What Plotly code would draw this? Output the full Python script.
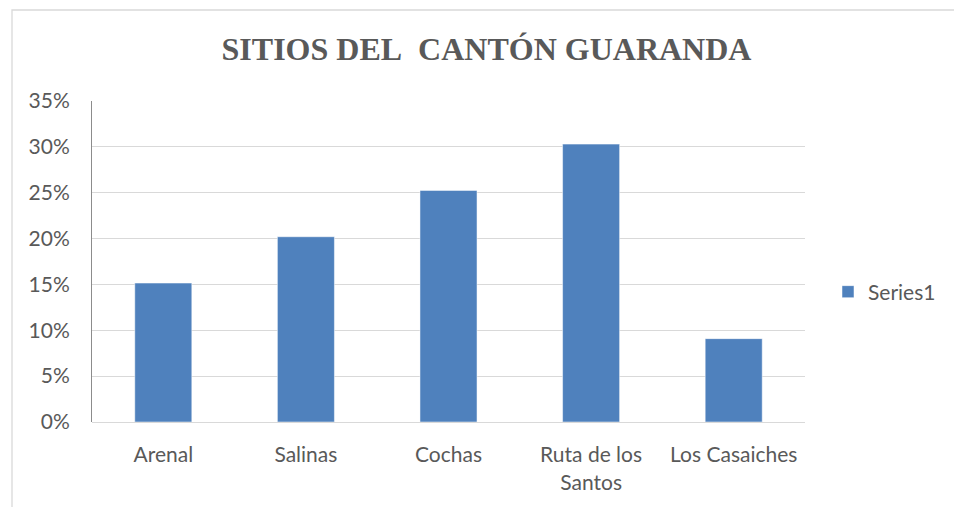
import plotly.graph_objects as go

categories = ["Arenal", "Salinas", "Cochas", "Ruta de los<br>Santos", "Los Casaiches"]
values = [0.1515, 0.2020, 0.2525, 0.3030, 0.0909]
series_name = "Series1"
title_text = "SITIOS DEL&nbsp; CANTÓN GUARANDA"
y_ticks = [0, 0.05, 0.10, 0.15, 0.20, 0.25, 0.30, 0.35]
y_tick_labels = ["0%", "5%", "10%", "15%", "20%", "25%", "30%", "35%"]

W, H = 954, 507
L, R, T, B = 92, 805, 101, 422

fig = go.Figure()
fig.add_trace(go.Bar(
    x=categories, y=values, name=series_name,
    marker=dict(color="#4f81bd", line=dict(color="#ffffff", width=0.5)),
    showlegend=True,
))

pw = R - L
ph = B - T

def px_x(p):
    return (p - L) / pw

def px_y(p):
    return (B - p) / ph

fig.update_layout(
    width=W, height=H,
    margin=dict(l=L, r=W - R, t=T, b=H - B, pad=0, autoexpand=False),
    paper_bgcolor="white", plot_bgcolor="white",
    bargap=0.6,
    font=dict(family="Lato, 'Open Sans', sans-serif", size=21, color="#595959"),
    title=dict(
        text="<b>" + title_text + "</b>",
        font=dict(family="'Liberation Serif', 'Times New Roman', serif", size=32, color="#595959"),
        x=px_x(486.5), xref="paper", xanchor="center",
        y=1 - 49 / H, yref="container", yanchor="middle",
    ),
    xaxis=dict(
        showgrid=False, showline=False, zeroline=False,
        ticks="outside", ticklen=14, tickcolor="rgba(0,0,0,0)",
        tickfont=dict(size=21, color="#595959"),
    ),
    yaxis=dict(
        range=[0, 0.35], tickvals=y_ticks, ticktext=y_tick_labels,
        showgrid=True, gridcolor="#d9d9d9", gridwidth=1.3,
        zeroline=True, zerolinecolor="#d9d9d9", zerolinewidth=1.3,
        showline=True, linecolor="#8c8c8c", linewidth=1,
        ticks="outside", ticklen=17, tickcolor="rgba(0,0,0,0)",
        tickfont=dict(size=21, color="#595959"),
    ),
    legend=dict(
        x=px_x(828), y=px_y(292), xanchor="left", yanchor="middle",
        xref="paper", yref="paper",
        font=dict(size=21, color="#595959"),
        itemwidth=30, bgcolor="rgba(0,0,0,0)",
    ),
)

fig.add_shape(
    type="rect", xref="paper", yref="paper",
    x0=px_x(12), x1=px_x(970),
    y0=px_y(520), y1=px_y(10),
    line=dict(color="#d9d9d9", width=1.3), fillcolor="rgba(0,0,0,0)", layer="below",
)

fig.write_html(
    "out.html",
    config={"displayModeBar": False},
    post_script="document.body.style.margin='0';document.body.style.overflow='hidden';",
)
